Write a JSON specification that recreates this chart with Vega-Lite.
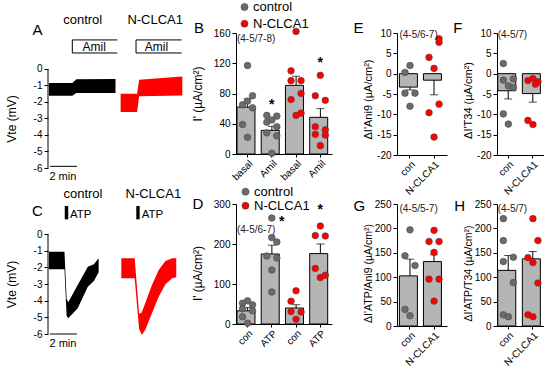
{
"$schema": "https://vega.github.io/schema/vega-lite/v6.json",
"padding": {"left": 5, "top": 0, "right": 0, "bottom": 0},
"bounds": "flush",
"columns": 6,
"spacing": {"row": 36, "column": 0},
"resolve": {"scale": {"color": "independent"}, "legend": {"color": "independent"}},
"config": {
  "font": "Liberation Sans",
  "view": {"stroke": null},
  "axis": {"labelFontSize": 10, "labelColor": "#000", "titleColor": "#000", "titleFontSize": 12, "titleFontWeight": "normal", "domainColor": "#000", "tickColor": "#000", "tickSize": 4, "labelPadding": 2, "grid": false, "labelOverlap": false, "labelFlush": false, "labelBound": false},
  "axisY": {"tickCount": 20},
  "text": {"color": "#000"}
},
"datasets": {
  "trA": [
    {"g":"control","t":0.07,"lo":-1.62,"hi":-0.85},
    {"g":"control","t":1.8,"lo":-1.62,"hi":-0.85},
    {"g":"control","t":2.1,"lo":-1.45,"hi":-0.62},
    {"g":"control","t":5.0,"lo":-1.45,"hi":-0.6},
    {"g":"N-CLCA1","t":5.38,"lo":-2.6,"hi":-1.5},
    {"g":"N-CLCA1","t":6.6,"lo":-2.6,"hi":-1.5},
    {"g":"N-CLCA1","t":6.75,"lo":-1.65,"hi":-0.65},
    {"g":"N-CLCA1","t":9.95,"lo":-1.6,"hi":-0.45}
  ],
  "trC": [
    {"g":"control","t":0.07,"lo":-2.12,"hi":-1.06},
    {"g":"control","t":1.22,"lo":-2.12,"hi":-1.06},
    {"g":"control","t":1.38,"lo":-4.9,"hi":-3.9},
    {"g":"control","t":1.5,"lo":-5.05,"hi":-4.1},
    {"g":"control","t":2.2,"lo":-4.46,"hi":-3.06},
    {"g":"control","t":2.95,"lo":-3.16,"hi":-1.96},
    {"g":"control","t":3.4,"lo":-2.82,"hi":-1.82},
    {"g":"control","t":3.75,"lo":-2.3,"hi":-1.46},
    {"g":"N-CLCA1","t":5.43,"lo":-2.66,"hi":-1.46},
    {"g":"N-CLCA1","t":6.42,"lo":-2.66,"hi":-1.46},
    {"g":"N-CLCA1","t":6.75,"lo":-5.7,"hi":-4.8},
    {"g":"N-CLCA1","t":6.95,"lo":-6.06,"hi":-4.7},
    {"g":"N-CLCA1","t":7.2,"lo":-5.76,"hi":-4.16},
    {"g":"N-CLCA1","t":7.7,"lo":-4.76,"hi":-3.06},
    {"g":"N-CLCA1","t":8.2,"lo":-3.76,"hi":-2.16},
    {"g":"N-CLCA1","t":8.7,"lo":-3.02,"hi":-1.62},
    {"g":"N-CLCA1","t":9.2,"lo":-2.66,"hi":-1.46},
    {"g":"N-CLCA1","t":9.5,"lo":-2.6,"hi":-1.46}
  ],
  "bars": [
    {"p":"B","k":"c_basal","mean":62,"err":73},
    {"p":"B","k":"c_amil","mean":31.3,"err":36.6},
    {"p":"B","k":"n_basal","mean":90.8,"err":102.7},
    {"p":"B","k":"n_amil","mean":48.5,"err":60},
    {"p":"D","k":"c_con","mean":33,"err":41},
    {"p":"D","k":"c_atp","mean":175,"err":197},
    {"p":"D","k":"n_con","mean":40,"err":48},
    {"p":"D","k":"n_atp","mean":176,"err":200},
    {"p":"E","k":"con","mean":-3.3,"err":-4.0},
    {"p":"E","k":"N-CLCA1","mean":-1.6,"err":-5.2},
    {"p":"F","k":"con","mean":-4.2,"err":-6.2},
    {"p":"F","k":"N-CLCA1","mean":-4.9,"err":-7.0},
    {"p":"G","k":"con","mean":102.7,"err":137},
    {"p":"G","k":"N-CLCA1","mean":132,"err":146},
    {"p":"H","k":"con","mean":114,"err":144.5},
    {"p":"H","k":"N-CLCA1","mean":137.7,"err":152.7}
  ],
  "pts": [
    {"p":"B","k":"c_basal","g":"control","v":117,"lane":0},
    {"p":"B","k":"c_basal","g":"control","v":77,"lane":1},
    {"p":"B","k":"c_basal","g":"control","v":70,"lane":0},
    {"p":"B","k":"c_basal","g":"control","v":65,"lane":-1},
    {"p":"B","k":"c_basal","g":"control","v":61,"lane":1},
    {"p":"B","k":"c_basal","g":"control","v":39,"lane":-1},
    {"p":"B","k":"c_basal","g":"control","v":22,"lane":0},
    {"p":"B","k":"c_amil","g":"control","v":51,"lane":-1},
    {"p":"B","k":"c_amil","g":"control","v":50,"lane":1},
    {"p":"B","k":"c_amil","g":"control","v":45,"lane":0},
    {"p":"B","k":"c_amil","g":"control","v":42,"lane":-1},
    {"p":"B","k":"c_amil","g":"control","v":36,"lane":1},
    {"p":"B","k":"c_amil","g":"control","v":28,"lane":-1},
    {"p":"B","k":"c_amil","g":"control","v":24,"lane":1},
    {"p":"B","k":"c_amil","g":"control","v":1,"lane":0},
    {"p":"B","k":"n_basal","g":"N-CLCA1","v":162,"lane":0},
    {"p":"B","k":"n_basal","g":"N-CLCA1","v":110,"lane":-1},
    {"p":"B","k":"n_basal","g":"N-CLCA1","v":97,"lane":-1},
    {"p":"B","k":"n_basal","g":"N-CLCA1","v":97,"lane":1},
    {"p":"B","k":"n_basal","g":"N-CLCA1","v":80,"lane":1},
    {"p":"B","k":"n_basal","g":"N-CLCA1","v":72,"lane":-1},
    {"p":"B","k":"n_basal","g":"N-CLCA1","v":54,"lane":1},
    {"p":"B","k":"n_basal","g":"N-CLCA1","v":51,"lane":0},
    {"p":"B","k":"n_amil","g":"N-CLCA1","v":104,"lane":0},
    {"p":"B","k":"n_amil","g":"N-CLCA1","v":77,"lane":-1},
    {"p":"B","k":"n_amil","g":"N-CLCA1","v":71,"lane":1},
    {"p":"B","k":"n_amil","g":"N-CLCA1","v":36,"lane":-1},
    {"p":"B","k":"n_amil","g":"N-CLCA1","v":32,"lane":1},
    {"p":"B","k":"n_amil","g":"N-CLCA1","v":26,"lane":-1},
    {"p":"B","k":"n_amil","g":"N-CLCA1","v":25,"lane":1},
    {"p":"B","k":"n_amil","g":"N-CLCA1","v":11,"lane":0},
    {"p":"D","k":"c_con","g":"control","v":58,"lane":0},
    {"p":"D","k":"c_con","g":"control","v":52,"lane":-1},
    {"p":"D","k":"c_con","g":"control","v":48,"lane":1},
    {"p":"D","k":"c_con","g":"control","v":38,"lane":-1},
    {"p":"D","k":"c_con","g":"control","v":33,"lane":1},
    {"p":"D","k":"c_con","g":"control","v":18,"lane":-1},
    {"p":"D","k":"c_con","g":"control","v":2,"lane":0},
    {"p":"D","k":"c_atp","g":"control","v":265,"lane":0},
    {"p":"D","k":"c_atp","g":"control","v":216,"lane":0},
    {"p":"D","k":"c_atp","g":"control","v":205,"lane":1},
    {"p":"D","k":"c_atp","g":"control","v":170,"lane":-1},
    {"p":"D","k":"c_atp","g":"control","v":165,"lane":1},
    {"p":"D","k":"c_atp","g":"control","v":135,"lane":0},
    {"p":"D","k":"c_atp","g":"control","v":80,"lane":0},
    {"p":"D","k":"n_con","g":"N-CLCA1","v":83,"lane":0},
    {"p":"D","k":"n_con","g":"N-CLCA1","v":57,"lane":-1},
    {"p":"D","k":"n_con","g":"N-CLCA1","v":31,"lane":-1},
    {"p":"D","k":"n_con","g":"N-CLCA1","v":30,"lane":1},
    {"p":"D","k":"n_con","g":"N-CLCA1","v":12,"lane":0},
    {"p":"D","k":"n_atp","g":"N-CLCA1","v":245,"lane":0},
    {"p":"D","k":"n_atp","g":"N-CLCA1","v":221,"lane":-1},
    {"p":"D","k":"n_atp","g":"N-CLCA1","v":220,"lane":1},
    {"p":"D","k":"n_atp","g":"N-CLCA1","v":139,"lane":-1},
    {"p":"D","k":"n_atp","g":"N-CLCA1","v":122,"lane":1},
    {"p":"D","k":"n_atp","g":"N-CLCA1","v":116,"lane":0},
    {"p":"E","k":"con","g":"control","v":2,"lane":0},
    {"p":"E","k":"con","g":"control","v":0.3,"lane":-1},
    {"p":"E","k":"con","g":"control","v":-4.8,"lane":-1},
    {"p":"E","k":"con","g":"control","v":-4.8,"lane":1},
    {"p":"E","k":"con","g":"control","v":-8,"lane":0},
    {"p":"E","k":"N-CLCA1","g":"N-CLCA1","v":8.6,"lane":1},
    {"p":"E","k":"N-CLCA1","g":"N-CLCA1","v":7.7,"lane":1},
    {"p":"E","k":"N-CLCA1","g":"N-CLCA1","v":4,"lane":-1},
    {"p":"E","k":"N-CLCA1","g":"N-CLCA1","v":1.3,"lane":0},
    {"p":"E","k":"N-CLCA1","g":"N-CLCA1","v":-7.5,"lane":1},
    {"p":"E","k":"N-CLCA1","g":"N-CLCA1","v":-9.6,"lane":-1},
    {"p":"E","k":"N-CLCA1","g":"N-CLCA1","v":-15.6,"lane":0},
    {"p":"F","k":"con","g":"control","v":2.5,"lane":-1},
    {"p":"F","k":"con","g":"control","v":-1.6,"lane":-1},
    {"p":"F","k":"con","g":"control","v":-1.3,"lane":1},
    {"p":"F","k":"con","g":"control","v":-3.0,"lane":0},
    {"p":"F","k":"con","g":"control","v":-3.4,"lane":1},
    {"p":"F","k":"con","g":"control","v":-9.9,"lane":-1},
    {"p":"F","k":"con","g":"control","v":-12.4,"lane":0},
    {"p":"F","k":"N-CLCA1","g":"N-CLCA1","v":-1.7,"lane":-1},
    {"p":"F","k":"N-CLCA1","g":"N-CLCA1","v":-1.2,"lane":0},
    {"p":"F","k":"N-CLCA1","g":"N-CLCA1","v":-2.0,"lane":1},
    {"p":"F","k":"N-CLCA1","g":"N-CLCA1","v":-2.6,"lane":0.5},
    {"p":"F","k":"N-CLCA1","g":"N-CLCA1","v":-11.5,"lane":-1},
    {"p":"F","k":"N-CLCA1","g":"N-CLCA1","v":-12.5,"lane":0},
    {"p":"G","k":"con","g":"control","v":197,"lane":0},
    {"p":"G","k":"con","g":"control","v":144,"lane":-1},
    {"p":"G","k":"con","g":"control","v":124,"lane":1},
    {"p":"G","k":"con","g":"control","v":34,"lane":-1},
    {"p":"G","k":"con","g":"control","v":21,"lane":0},
    {"p":"G","k":"N-CLCA1","g":"N-CLCA1","v":196,"lane":0},
    {"p":"G","k":"N-CLCA1","g":"N-CLCA1","v":173,"lane":-1},
    {"p":"G","k":"N-CLCA1","g":"N-CLCA1","v":173,"lane":1},
    {"p":"G","k":"N-CLCA1","g":"N-CLCA1","v":151,"lane":0},
    {"p":"G","k":"N-CLCA1","g":"N-CLCA1","v":96,"lane":-1},
    {"p":"G","k":"N-CLCA1","g":"N-CLCA1","v":96,"lane":1},
    {"p":"G","k":"N-CLCA1","g":"N-CLCA1","v":51,"lane":0},
    {"p":"H","k":"con","g":"control","v":220,"lane":-1},
    {"p":"H","k":"con","g":"control","v":175,"lane":-1},
    {"p":"H","k":"con","g":"control","v":132,"lane":-1},
    {"p":"H","k":"con","g":"control","v":141,"lane":1},
    {"p":"H","k":"con","g":"control","v":89,"lane":1},
    {"p":"H","k":"con","g":"control","v":23,"lane":-1},
    {"p":"H","k":"con","g":"control","v":19,"lane":0},
    {"p":"H","k":"N-CLCA1","g":"N-CLCA1","v":220,"lane":0},
    {"p":"H","k":"N-CLCA1","g":"N-CLCA1","v":175,"lane":1},
    {"p":"H","k":"N-CLCA1","g":"N-CLCA1","v":140,"lane":-1},
    {"p":"H","k":"N-CLCA1","g":"N-CLCA1","v":130,"lane":0},
    {"p":"H","k":"N-CLCA1","g":"N-CLCA1","v":88,"lane":1},
    {"p":"H","k":"N-CLCA1","g":"N-CLCA1","v":23,"lane":-1},
    {"p":"H","k":"N-CLCA1","g":"N-CLCA1","v":19,"lane":0}
  ],
  "ann": [
    {"p":"B","k":"c_basal","v":152,"txt":"(4-5/7-8)"},
    {"p":"D","k":"c_con","v":235,"txt":"(4-5/6-7)"},
    {"p":"E","k":"con","v":9.4,"txt":"(4-5/6-7)"},
    {"p":"F","k":"con","v":9.4,"txt":"(4-5/7)"},
    {"p":"G","k":"con","v":240,"txt":"(4-5/5-7)"},
    {"p":"H","k":"con","v":240,"txt":"(4-5/7)"}
  ],
  "stars": [
    {"p":"B","k":"c_amil","v":60,"lane":0},
    {"p":"B","k":"n_amil","v":114.5,"lane":0},
    {"p":"D","k":"c_atp","v":246,"lane":2},
    {"p":"D","k":"n_atp","v":275,"lane":0}
  ]
},
"concat": [
  {
    "width": 188, "height": 135,
    "layer": [
      {"data": {"name": "trA"}, "mark": {"type": "area", "interpolate": "linear"},
       "encoding": {
         "x": {"field": "t", "type": "quantitative", "scale": {"domain": [0, 13.926], "nice": false, "zero": false}, "axis": null},
         "y": {"field": "lo", "type": "quantitative", "scale": {"domain": [-6, 2.18], "nice": false, "zero": false},
               "axis": {"values": [0,-1,-2,-3,-4,-5,-6], "tickCount": 20, "domain": false, "labelExpr": "'' + datum.value", "title": "Vte (mV)", "titleY": 85.5, "titlePadding": 15}},
         "y2": {"field": "hi"},
         "color": {"field": "g", "type": "nominal", "scale": {"domain": ["control","N-CLCA1"], "range": ["#000000","#ff0000"]}, "legend": null}
       }},
      {"data": {"values": [{}]}, "mark": {"type": "rule", "color": "#000", "strokeWidth": 1},
       "encoding": {"x": {"datum": 0, "type": "quantitative"}, "y": {"datum": 0, "type": "quantitative"}, "y2": {"datum": -6}}},
      {"data": {"values": [{}]}, "mark": {"type": "rule", "color": "#000", "strokeWidth": 1},
       "encoding": {"x": {"datum": 0.15, "type": "quantitative"}, "x2": {"datum": 2.15}, "y": {"datum": -5.9, "type": "quantitative"}}},
      {"data": {"values": [{}]}, "mark": {"type": "text", "text": "2 min", "fontSize": 11, "align": "center", "baseline": "alphabetic"},
       "encoding": {"x": {"datum": 1.1, "type": "quantitative"}, "y": {"datum": -6.73, "type": "quantitative"}}},
      {"data": {"values": [{}]}, "mark": {"type": "text", "text": "control", "fontSize": 13, "align": "center", "baseline": "alphabetic"},
       "encoding": {"x": {"datum": 2.57, "type": "quantitative"}, "y": {"datum": 2.73, "type": "quantitative"}}},
      {"data": {"values": [{}]}, "mark": {"type": "text", "text": "N-CLCA1", "fontSize": 13, "align": "center", "baseline": "alphabetic"},
       "encoding": {"x": {"datum": 7.94, "type": "quantitative"}, "y": {"datum": 2.73, "type": "quantitative"}}},
      {"data": {"values": [{}]}, "mark": {"type": "rule", "color": "#000", "strokeWidth": 1},
       "encoding": {"x": {"datum": 1.8, "type": "quantitative"}, "x2": {"datum": 5.13}, "y": {"datum": 1.76, "type": "quantitative"}}},
      {"data": {"values": [{}]}, "mark": {"type": "rule", "color": "#000", "strokeWidth": 1},
       "encoding": {"x": {"datum": 1.8, "type": "quantitative"}, "x2": {"datum": 5.13}, "y": {"datum": 0.97, "type": "quantitative"}}},
      {"data": {"values": [{}]}, "mark": {"type": "rule", "color": "#000", "strokeWidth": 1},
       "encoding": {"x": {"datum": 1.8, "type": "quantitative"}, "y": {"datum": 0.97, "type": "quantitative"}, "y2": {"datum": 1.76}}},
      {"data": {"values": [{}]}, "mark": {"type": "rule", "color": "#000", "strokeWidth": 1},
       "encoding": {"x": {"datum": 6.52, "type": "quantitative"}, "x2": {"datum": 9.9}, "y": {"datum": 1.76, "type": "quantitative"}}},
      {"data": {"values": [{}]}, "mark": {"type": "rule", "color": "#000", "strokeWidth": 1},
       "encoding": {"x": {"datum": 6.52, "type": "quantitative"}, "x2": {"datum": 9.9}, "y": {"datum": 0.97, "type": "quantitative"}}},
      {"data": {"values": [{}]}, "mark": {"type": "rule", "color": "#000", "strokeWidth": 1},
       "encoding": {"x": {"datum": 6.52, "type": "quantitative"}, "y": {"datum": 0.97, "type": "quantitative"}, "y2": {"datum": 1.76}}},
      {"data": {"values": [{}]}, "mark": {"type": "text", "text": "Amil", "fontSize": 12, "align": "center", "baseline": "alphabetic"},
       "encoding": {"x": {"datum": 3.42, "type": "quantitative"}, "y": {"datum": 1.11, "type": "quantitative"}}},
      {"data": {"values": [{}]}, "mark": {"type": "text", "text": "Amil", "fontSize": 12, "align": "center", "baseline": "alphabetic"},
       "encoding": {"x": {"datum": 8.04, "type": "quantitative"}, "y": {"datum": 1.11, "type": "quantitative"}}},
      {"data": {"values": [{}]}, "mark": {"type": "text", "text": "A", "fontSize": 15, "align": "center", "baseline": "alphabetic"},
       "encoding": {"x": {"datum": -0.78, "type": "quantitative"}, "y": {"datum": 2.06, "type": "quantitative"}}}
    ]
  },
  {
    "width": 96, "height": 121,
    "layer": [
      {"data": {"name": "bars"}, "transform": [{"filter": "datum.p == 'B'"}],
       "mark": {"type": "bar", "fill": "#b5b5b5", "stroke": "#000", "strokeWidth": 1},
       "encoding": {
         "x": {"field": "k", "type": "nominal", "sort": null, "scale": {"domain": ["c_basal","c_amil","n_basal","n_amil"], "paddingInner": 0.12, "paddingOuter": 0.04},
               "axis": {"title": null, "labelAngle": -45, "tickSize": 3, "labelPadding": 1, "labelExpr": "indexof(datum.value, 'basal') >= 0 ? 'basal' : 'Amil'"}},
         "y": {"field": "mean", "type": "quantitative", "scale": {"domain": [0, 160], "nice": false},
               "axis": {"values": [0,40,80,120,160], "tickCount": 20, "title": "I' (µA/cm²)", "titlePadding": 9}}
       }},
      {"data": {"name": "bars"}, "transform": [{"filter": "datum.p == 'B'"}],
       "mark": {"type": "rule", "color": "#000", "strokeWidth": 1},
       "encoding": {"x": {"field": "k", "type": "nominal", "sort": null}, "y": {"field": "mean", "type": "quantitative"}, "y2": {"field": "err"}}},
      {"data": {"name": "bars"}, "transform": [{"filter": "datum.p == 'B'"}],
       "mark": {"type": "tick", "color": "#000", "thickness": 1, "size": 8},
       "encoding": {"x": {"field": "k", "type": "nominal", "sort": null}, "y": {"field": "err", "type": "quantitative"}}},
      {"data": {"name": "pts"}, "transform": [{"filter": "datum.p == 'B'"}],
       "mark": {"type": "circle", "size": 44, "opacity": 1, "stroke": "#444", "strokeWidth": 0.6},
       "encoding": {
         "x": {"field": "k", "type": "nominal", "sort": null, "bandPosition": 0},
         "xOffset": {"field": "lane", "type": "quantitative", "scale": {"domain": [-1, 1], "range": [5.6, 15.6]}},
         "y": {"field": "v", "type": "quantitative"},
         "color": {"field": "g", "type": "nominal", "scale": {"domain": ["control","N-CLCA1"], "range": ["#6b6b6b","#ff0000"]},
                   "legend": {"orient": "none", "legendX": 2, "legendY": -32.5, "title": null, "labelFontSize": 13, "symbolSize": 50, "symbolType": "circle", "rowPadding": 2.7, "labelOffset": 2, "padding": 0, "symbolStrokeColor": "#444", "symbolStrokeWidth": 0.6, "symbolOpacity": 1, "labelColor": "#000"}}
       }},
      {"data": {"name": "stars"}, "transform": [{"filter": "datum.p == 'B'"}],
       "mark": {"type": "text", "text": "*", "fontSize": 14, "fontWeight": "bold", "align": "center", "baseline": "alphabetic"},
       "encoding": {"x": {"field": "k", "type": "nominal", "sort": null, "bandPosition": 0}, "xOffset": {"field": "lane", "type": "quantitative"}, "y": {"field": "v", "type": "quantitative"}}},
      {"data": {"name": "ann"}, "transform": [{"filter": "datum.p == 'B'"}],
       "mark": {"type": "text", "fontSize": 10, "align": "left", "baseline": "middle", "color": "#222"},
       "encoding": {"x": {"field": "k", "type": "nominal", "sort": null, "bandPosition": 0}, "y": {"field": "v", "type": "quantitative"}, "text": {"field": "txt"}}},
      {"data": {"values": [{}]}, "mark": {"type": "text", "text": "B", "fontSize": 15, "dx": -38, "align": "center", "baseline": "alphabetic"},
       "encoding": {"x": {"datum": "c_basal", "type": "nominal", "bandPosition": 0}, "y": {"datum": 160, "type": "quantitative"}}}
    ]
  },
  {"width": 65, "height": 20, "data": {"values": [{}]}, "mark": {"type": "text"}, "encoding": {"text": {"value": " "}}},
  {
    "width": 50, "height": 122,
    "layer": [
      {"data": {"name": "bars"}, "transform": [{"filter": "datum.p == 'E'"}],
       "mark": {"type": "bar", "fill": "#b5b5b5", "stroke": "#000", "strokeWidth": 1},
       "encoding": {
         "x": {"field": "k", "type": "nominal", "sort": null, "scale": {"domain": ["con","N-CLCA1"], "paddingInner": 0.12, "paddingOuter": 0.1},
               "axis": {"title": null, "labelAngle": -45, "tickSize": 3, "labelPadding": 1}},
         "y": {"field": "mean", "type": "quantitative", "scale": {"domain": [-20, 10], "nice": false},
               "axis": {"values": [10,5,0,-5,-10,-15,-20], "tickCount": 20, "labelExpr": "'' + datum.value", "title": "ΔI'Ani9 (µA/cm²)", "titleFontSize": 11, "titlePadding": 3, "titleY": 66}}
       }},
      {"data": {"name": "bars"}, "transform": [{"filter": "datum.p == 'E'"}],
       "mark": {"type": "rule", "color": "#000", "strokeWidth": 1},
       "encoding": {"x": {"field": "k", "type": "nominal", "sort": null}, "y": {"field": "mean", "type": "quantitative"}, "y2": {"field": "err"}}},
      {"data": {"name": "bars"}, "transform": [{"filter": "datum.p == 'E'"}],
       "mark": {"type": "tick", "color": "#000", "thickness": 1, "size": 8},
       "encoding": {"x": {"field": "k", "type": "nominal", "sort": null}, "y": {"field": "err", "type": "quantitative"}}},
      {"data": {"name": "pts"}, "transform": [{"filter": "datum.p == 'E'"}],
       "mark": {"type": "circle", "size": 44, "opacity": 1, "stroke": "#444", "strokeWidth": 0.6},
       "encoding": {
         "x": {"field": "k", "type": "nominal", "sort": null, "bandPosition": 0},
         "xOffset": {"field": "lane", "type": "quantitative", "scale": {"domain": [-1, 1], "range": [5.6, 15.6]}},
         "y": {"field": "v", "type": "quantitative"},
         "color": {"field": "g", "type": "nominal", "scale": {"domain": ["control","N-CLCA1"], "range": ["#6b6b6b","#ff0000"]}, "legend": null}
       }},
      {"data": {"name": "ann"}, "transform": [{"filter": "datum.p == 'E'"}],
       "mark": {"type": "text", "fontSize": 10, "align": "left", "baseline": "middle", "color": "#222"},
       "encoding": {"x": {"field": "k", "type": "nominal", "sort": null, "bandPosition": 0}, "y": {"field": "v", "type": "quantitative"}, "text": {"field": "txt"}}},
      {"data": {"values": [{}]}, "mark": {"type": "text", "text": "E", "fontSize": 15, "dx": -41, "align": "center", "baseline": "alphabetic"},
       "encoding": {"x": {"datum": "con", "type": "nominal", "bandPosition": 0}, "y": {"datum": 10, "type": "quantitative"}}}
    ]
  },
  {"width": 50, "height": 20, "data": {"values": [{}]}, "mark": {"type": "text"}, "encoding": {"text": {"value": " "}}},
  {
    "width": 47, "height": 122,
    "layer": [
      {"data": {"name": "bars"}, "transform": [{"filter": "datum.p == 'F'"}],
       "mark": {"type": "bar", "fill": "#b5b5b5", "stroke": "#000", "strokeWidth": 1},
       "encoding": {
         "x": {"field": "k", "type": "nominal", "sort": null, "scale": {"domain": ["con","N-CLCA1"], "paddingInner": 0.15, "paddingOuter": 0.03},
               "axis": {"title": null, "labelAngle": -45, "tickSize": 3, "labelPadding": 1}},
         "y": {"field": "mean", "type": "quantitative", "scale": {"domain": [-20, 10], "nice": false},
               "axis": {"values": [10,5,0,-5,-10,-15,-20], "tickCount": 20, "labelExpr": "'' + datum.value", "title": "ΔI'T34 (µA/cm²)", "titleFontSize": 11, "titlePadding": 3, "titleY": 67}}
       }},
      {"data": {"name": "bars"}, "transform": [{"filter": "datum.p == 'F'"}],
       "mark": {"type": "rule", "color": "#000", "strokeWidth": 1},
       "encoding": {"x": {"field": "k", "type": "nominal", "sort": null}, "y": {"field": "mean", "type": "quantitative"}, "y2": {"field": "err"}}},
      {"data": {"name": "bars"}, "transform": [{"filter": "datum.p == 'F'"}],
       "mark": {"type": "tick", "color": "#000", "thickness": 1, "size": 8},
       "encoding": {"x": {"field": "k", "type": "nominal", "sort": null}, "y": {"field": "err", "type": "quantitative"}}},
      {"data": {"name": "pts"}, "transform": [{"filter": "datum.p == 'F'"}],
       "mark": {"type": "circle", "size": 44, "opacity": 1, "stroke": "#444", "strokeWidth": 0.6},
       "encoding": {
         "x": {"field": "k", "type": "nominal", "sort": null, "bandPosition": 0},
         "xOffset": {"field": "lane", "type": "quantitative", "scale": {"domain": [-1, 1], "range": [5.6, 15.6]}},
         "y": {"field": "v", "type": "quantitative"},
         "color": {"field": "g", "type": "nominal", "scale": {"domain": ["control","N-CLCA1"], "range": ["#6b6b6b","#ff0000"]}, "legend": null}
       }},
      {"data": {"name": "ann"}, "transform": [{"filter": "datum.p == 'F'"}],
       "mark": {"type": "text", "fontSize": 10, "align": "left", "baseline": "middle", "color": "#222"},
       "encoding": {"x": {"field": "k", "type": "nominal", "sort": null, "bandPosition": 0}, "y": {"field": "v", "type": "quantitative"}, "text": {"field": "txt"}}},
      {"data": {"values": [{}]}, "mark": {"type": "text", "text": "F", "fontSize": 15, "dx": -40, "align": "center", "baseline": "alphabetic"},
       "encoding": {"x": {"datum": "con", "type": "nominal", "bandPosition": 0}, "y": {"datum": 10, "type": "quantitative"}}}
    ]
  },
  {
    "width": 188, "height": 130,
    "layer": [
      {"data": {"name": "trC"}, "mark": {"type": "area", "interpolate": "linear"},
       "encoding": {
         "x": {"field": "t", "type": "quantitative", "scale": {"domain": [0, 13.926], "nice": false, "zero": false}, "axis": null},
         "y": {"field": "lo", "type": "quantitative", "scale": {"domain": [-6, 1.8], "nice": false, "zero": false},
               "axis": {"values": [0,-1,-2,-3,-4,-5,-6], "tickCount": 20, "domain": false, "labelExpr": "'' + datum.value", "title": "Vte (mV)", "titleY": 80, "titlePadding": 15}},
         "y2": {"field": "hi"},
         "color": {"field": "g", "type": "nominal", "scale": {"domain": ["control","N-CLCA1"], "range": ["#000000","#ff0000"]}, "legend": null}
       }},
      {"data": {"values": [{}]}, "mark": {"type": "rule", "color": "#000", "strokeWidth": 1},
       "encoding": {"x": {"datum": 0, "type": "quantitative"}, "y": {"datum": 0, "type": "quantitative"}, "y2": {"datum": -6}}},
      {"data": {"values": [{}]}, "mark": {"type": "rule", "color": "#000", "strokeWidth": 1},
       "encoding": {"x": {"datum": 0.15, "type": "quantitative"}, "x2": {"datum": 2.15}, "y": {"datum": -6, "type": "quantitative"}}},
      {"data": {"values": [{}]}, "mark": {"type": "text", "text": "2 min", "fontSize": 11, "align": "center", "baseline": "alphabetic"},
       "encoding": {"x": {"datum": 1.11, "type": "quantitative"}, "y": {"datum": -6.76, "type": "quantitative"}}},
      {"data": {"values": [{}]}, "mark": {"type": "text", "text": "control", "fontSize": 13, "align": "center", "baseline": "alphabetic"},
       "encoding": {"x": {"datum": 2.59, "type": "quantitative"}, "y": {"datum": 2.14, "type": "quantitative"}}},
      {"data": {"values": [{}]}, "mark": {"type": "text", "text": "N-CLCA1", "fontSize": 13, "align": "center", "baseline": "alphabetic"},
       "encoding": {"x": {"datum": 7.8, "type": "quantitative"}, "y": {"datum": 2.14, "type": "quantitative"}}},
      {"data": {"values": [{}]}, "mark": {"type": "rect", "color": "#000"},
       "encoding": {"x": {"datum": 1.24, "type": "quantitative"}, "x2": {"datum": 1.5}, "y": {"datum": 0.88, "type": "quantitative"}, "y2": {"datum": 1.68}}},
      {"data": {"values": [{}]}, "mark": {"type": "rect", "color": "#000"},
       "encoding": {"x": {"datum": 6.54, "type": "quantitative"}, "x2": {"datum": 6.79}, "y": {"datum": 0.88, "type": "quantitative"}, "y2": {"datum": 1.68}}},
      {"data": {"values": [{}]}, "mark": {"type": "text", "text": "ATP", "fontSize": 11.5, "align": "left", "baseline": "alphabetic"},
       "encoding": {"x": {"datum": 1.63, "type": "quantitative"}, "y": {"datum": 0.94, "type": "quantitative"}}},
      {"data": {"values": [{}]}, "mark": {"type": "text", "text": "ATP", "fontSize": 11.5, "align": "left", "baseline": "alphabetic"},
       "encoding": {"x": {"datum": 6.94, "type": "quantitative"}, "y": {"datum": 0.94, "type": "quantitative"}}},
      {"data": {"values": [{}]}, "mark": {"type": "text", "text": "C", "fontSize": 15, "align": "center", "baseline": "alphabetic"},
       "encoding": {"x": {"datum": -0.78, "type": "quantitative"}, "y": {"datum": 1.11, "type": "quantitative"}}}
    ]
  },
  {
    "width": 96, "height": 120,
    "layer": [
      {"data": {"name": "bars"}, "transform": [{"filter": "datum.p == 'D'"}],
       "mark": {"type": "bar", "fill": "#b5b5b5", "stroke": "#000", "strokeWidth": 1},
       "encoding": {
         "x": {"field": "k", "type": "nominal", "sort": null, "scale": {"domain": ["c_con","c_atp","n_con","n_atp"], "paddingInner": 0.12, "paddingOuter": 0.04},
               "axis": {"title": null, "labelAngle": -45, "tickSize": 3, "labelPadding": 1, "labelExpr": "indexof(datum.value, 'con') >= 0 ? 'con' : 'ATP'"}},
         "y": {"field": "mean", "type": "quantitative", "scale": {"domain": [0, 300], "nice": false},
               "axis": {"values": [0,100,200,300], "tickCount": 20, "title": "I' (µA/cm²)", "titlePadding": 9, "titleY": 69}}
       }},
      {"data": {"name": "bars"}, "transform": [{"filter": "datum.p == 'D'"}],
       "mark": {"type": "rule", "color": "#000", "strokeWidth": 1},
       "encoding": {"x": {"field": "k", "type": "nominal", "sort": null}, "y": {"field": "mean", "type": "quantitative"}, "y2": {"field": "err"}}},
      {"data": {"name": "bars"}, "transform": [{"filter": "datum.p == 'D'"}],
       "mark": {"type": "tick", "color": "#000", "thickness": 1, "size": 8},
       "encoding": {"x": {"field": "k", "type": "nominal", "sort": null}, "y": {"field": "err", "type": "quantitative"}}},
      {"data": {"name": "pts"}, "transform": [{"filter": "datum.p == 'D'"}],
       "mark": {"type": "circle", "size": 44, "opacity": 1, "stroke": "#444", "strokeWidth": 0.6},
       "encoding": {
         "x": {"field": "k", "type": "nominal", "sort": null, "bandPosition": 0},
         "xOffset": {"field": "lane", "type": "quantitative", "scale": {"domain": [-1, 1], "range": [5.6, 15.6]}},
         "y": {"field": "v", "type": "quantitative"},
         "color": {"field": "g", "type": "nominal", "scale": {"domain": ["control","N-CLCA1"], "range": ["#6b6b6b","#ff0000"]},
                   "legend": {"orient": "none", "legendX": 3, "legendY": -18.8, "title": null, "labelFontSize": 13, "symbolSize": 50, "symbolType": "circle", "rowPadding": -0.7, "labelOffset": 2, "padding": 0, "symbolStrokeColor": "#444", "symbolStrokeWidth": 0.6, "symbolOpacity": 1, "labelColor": "#000"}}
       }},
      {"data": {"name": "stars"}, "transform": [{"filter": "datum.p == 'D'"}],
       "mark": {"type": "text", "text": "*", "fontSize": 14, "fontWeight": "bold", "align": "center", "baseline": "alphabetic"},
       "encoding": {"x": {"field": "k", "type": "nominal", "sort": null, "bandPosition": 0}, "xOffset": {"field": "lane", "type": "quantitative"}, "y": {"field": "v", "type": "quantitative"}}},
      {"data": {"name": "ann"}, "transform": [{"filter": "datum.p == 'D'"}],
       "mark": {"type": "text", "fontSize": 10, "align": "left", "baseline": "middle", "color": "#222"},
       "encoding": {"x": {"field": "k", "type": "nominal", "sort": null, "bandPosition": 0}, "y": {"field": "v", "type": "quantitative"}, "text": {"field": "txt"}}},
      {"data": {"values": [{}]}, "mark": {"type": "text", "text": "D", "fontSize": 15, "dx": -39, "align": "center", "baseline": "alphabetic"},
       "encoding": {"x": {"datum": "c_con", "type": "nominal", "bandPosition": 0}, "y": {"datum": 287.5, "type": "quantitative"}}}
    ]
  },
  {"width": 65, "height": 20, "data": {"values": [{}]}, "mark": {"type": "text"}, "encoding": {"text": {"value": " "}}},
  {
    "width": 50, "height": 122,
    "layer": [
      {"data": {"name": "bars"}, "transform": [{"filter": "datum.p == 'G'"}],
       "mark": {"type": "bar", "fill": "#b5b5b5", "stroke": "#000", "strokeWidth": 1},
       "encoding": {
         "x": {"field": "k", "type": "nominal", "sort": null, "scale": {"domain": ["con","N-CLCA1"], "paddingInner": 0.12, "paddingOuter": 0.1},
               "axis": {"title": null, "labelAngle": -45, "tickSize": 3, "labelPadding": 1}},
         "y": {"field": "mean", "type": "quantitative", "scale": {"domain": [0, 250], "nice": false},
               "axis": {"values": [0,50,100,150,200,250], "tickCount": 20, "title": "ΔI'ATP/Ani9 (µA/cm²)", "titleFontSize": 10.5, "titlePadding": 1, "titleY": 69}}
       }},
      {"data": {"name": "bars"}, "transform": [{"filter": "datum.p == 'G'"}],
       "mark": {"type": "rule", "color": "#000", "strokeWidth": 1},
       "encoding": {"x": {"field": "k", "type": "nominal", "sort": null}, "y": {"field": "mean", "type": "quantitative"}, "y2": {"field": "err"}}},
      {"data": {"name": "bars"}, "transform": [{"filter": "datum.p == 'G'"}],
       "mark": {"type": "tick", "color": "#000", "thickness": 1, "size": 8},
       "encoding": {"x": {"field": "k", "type": "nominal", "sort": null}, "y": {"field": "err", "type": "quantitative"}}},
      {"data": {"name": "pts"}, "transform": [{"filter": "datum.p == 'G'"}],
       "mark": {"type": "circle", "size": 44, "opacity": 1, "stroke": "#444", "strokeWidth": 0.6},
       "encoding": {
         "x": {"field": "k", "type": "nominal", "sort": null, "bandPosition": 0},
         "xOffset": {"field": "lane", "type": "quantitative", "scale": {"domain": [-1, 1], "range": [5.6, 15.6]}},
         "y": {"field": "v", "type": "quantitative"},
         "color": {"field": "g", "type": "nominal", "scale": {"domain": ["control","N-CLCA1"], "range": ["#6b6b6b","#ff0000"]}, "legend": null}
       }},
      {"data": {"name": "ann"}, "transform": [{"filter": "datum.p == 'G'"}],
       "mark": {"type": "text", "fontSize": 10, "align": "left", "baseline": "middle", "color": "#222"},
       "encoding": {"x": {"field": "k", "type": "nominal", "sort": null, "bandPosition": 0}, "y": {"field": "v", "type": "quantitative"}, "text": {"field": "txt"}}},
      {"data": {"values": [{}]}, "mark": {"type": "text", "text": "G", "fontSize": 15, "dx": -40, "align": "center", "baseline": "alphabetic"},
       "encoding": {"x": {"datum": "con", "type": "nominal", "bandPosition": 0}, "y": {"datum": 235.7, "type": "quantitative"}}}
    ]
  },
  {"width": 50, "height": 20, "data": {"values": [{}]}, "mark": {"type": "text"}, "encoding": {"text": {"value": " "}}},
  {
    "width": 47, "height": 122,
    "layer": [
      {"data": {"name": "bars"}, "transform": [{"filter": "datum.p == 'H'"}],
       "mark": {"type": "bar", "fill": "#b5b5b5", "stroke": "#000", "strokeWidth": 1},
       "encoding": {
         "x": {"field": "k", "type": "nominal", "sort": null, "scale": {"domain": ["con","N-CLCA1"], "paddingInner": 0.15, "paddingOuter": 0.03},
               "axis": {"title": null, "labelAngle": -45, "tickSize": 3, "labelPadding": 1}},
         "y": {"field": "mean", "type": "quantitative", "scale": {"domain": [0, 250], "nice": false},
               "axis": {"values": [0,50,100,150,200,250], "tickCount": 20, "title": "ΔI'ATP/T34 (µA/cm²)", "titleFontSize": 10.5, "titlePadding": 1, "titleY": 69}}
       }},
      {"data": {"name": "bars"}, "transform": [{"filter": "datum.p == 'H'"}],
       "mark": {"type": "rule", "color": "#000", "strokeWidth": 1},
       "encoding": {"x": {"field": "k", "type": "nominal", "sort": null}, "y": {"field": "mean", "type": "quantitative"}, "y2": {"field": "err"}}},
      {"data": {"name": "bars"}, "transform": [{"filter": "datum.p == 'H'"}],
       "mark": {"type": "tick", "color": "#000", "thickness": 1, "size": 8},
       "encoding": {"x": {"field": "k", "type": "nominal", "sort": null}, "y": {"field": "err", "type": "quantitative"}}},
      {"data": {"name": "pts"}, "transform": [{"filter": "datum.p == 'H'"}],
       "mark": {"type": "circle", "size": 44, "opacity": 1, "stroke": "#444", "strokeWidth": 0.6},
       "encoding": {
         "x": {"field": "k", "type": "nominal", "sort": null, "bandPosition": 0},
         "xOffset": {"field": "lane", "type": "quantitative", "scale": {"domain": [-1, 1], "range": [5.6, 15.6]}},
         "y": {"field": "v", "type": "quantitative"},
         "color": {"field": "g", "type": "nominal", "scale": {"domain": ["control","N-CLCA1"], "range": ["#6b6b6b","#ff0000"]}, "legend": null}
       }},
      {"data": {"name": "ann"}, "transform": [{"filter": "datum.p == 'H'"}],
       "mark": {"type": "text", "fontSize": 10, "align": "left", "baseline": "middle", "color": "#222"},
       "encoding": {"x": {"field": "k", "type": "nominal", "sort": null, "bandPosition": 0}, "y": {"field": "v", "type": "quantitative"}, "text": {"field": "txt"}}},
      {"data": {"values": [{}]}, "mark": {"type": "text", "text": "H", "fontSize": 15, "dx": -38, "align": "center", "baseline": "alphabetic"},
       "encoding": {"x": {"datum": "con", "type": "nominal", "bandPosition": 0}, "y": {"datum": 235.7, "type": "quantitative"}}}
    ]
  }
]
}
